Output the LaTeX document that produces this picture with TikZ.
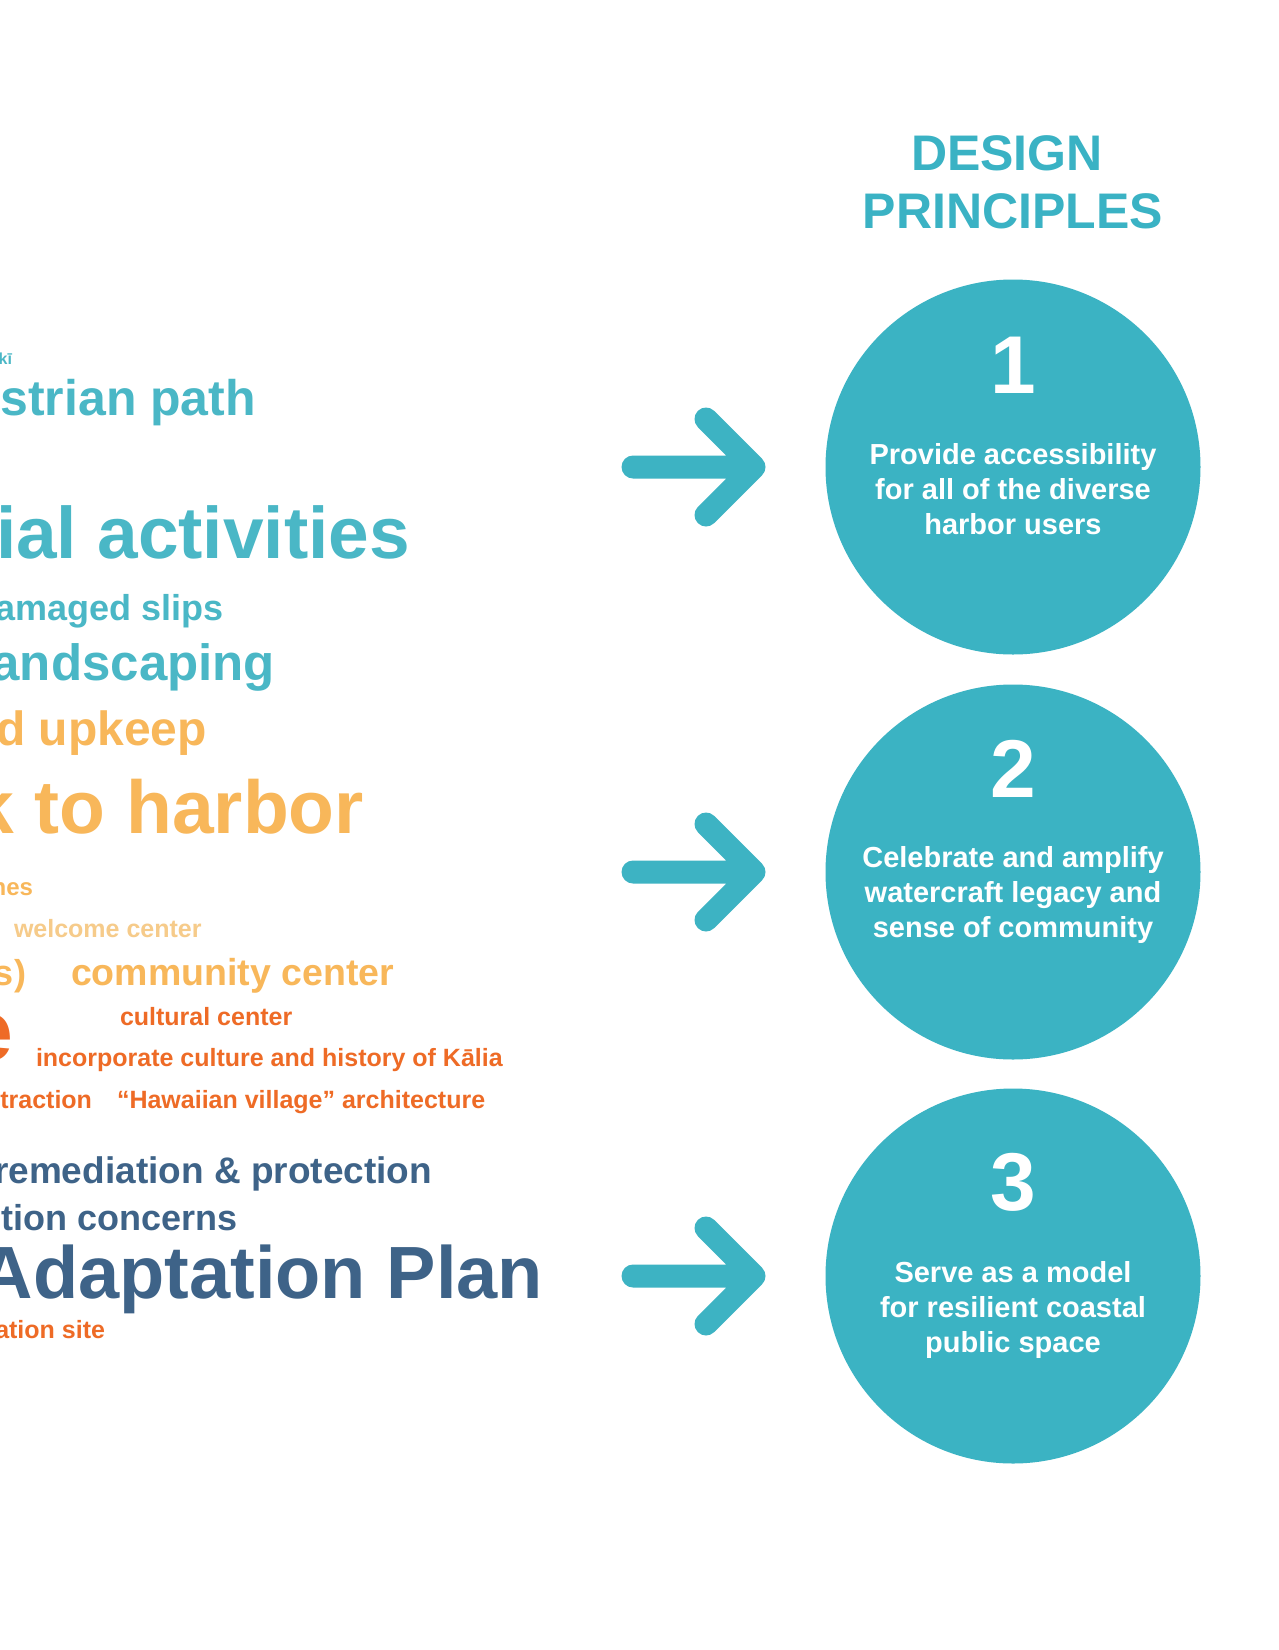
\documentclass[tikz,border=0pt]{standalone}
\usepackage{fontspec}
\setmainfont{Liberation Sans}
\definecolor{circ}{HTML}{3BB3C3}
\definecolor{arrowc}{HTML}{3DB3C3}
\definecolor{title}{HTML}{3AB2C4}
\definecolor{tealw}{HTML}{4AB7C6}
\definecolor{orangel}{HTML}{F8B75A}
\definecolor{orangep}{HTML}{F6CB8A}
\definecolor{oranged}{HTML}{EE6B26}
\definecolor{slate}{HTML}{3E6388}
\newcommand\wsz[1]{\fontsize{#1}{#1}\selectfont}
\tikzset{
  word/.style={inner sep=0pt, outer sep=0pt, font=\bfseries},
  wl/.style={word, anchor=base west},
  wr/.style={word, anchor=base east},
  principle/.style={circle, fill=circ, minimum size=375pt, inner sep=0pt},
  num/.style={text=white, font=\bfseries\wsz{82}, anchor=base, inner sep=0pt},
  ptext/.style={text=white, font=\bfseries\fontsize{29}{35}\selectfont, align=center, anchor=base, inner sep=0pt},
  bigarrow/.style={draw=arrowc, line width=23pt, line cap=round, line join=round},
}
\begin{document}
\begin{tikzpicture}[x=1pt,y=-1pt]
\useasboundingbox (0,0) rectangle (1278,1650);
\clip (0,0) rectangle (1278,1650);
\fill[white] (0,0) rectangle (1278,1650);

% word cloud (cut at the left edge)
\node[wr, text=tealw, font=\bfseries\wsz{16}] (w1) at (12,364) {kī};
\node[wr, text=tealw, font=\bfseries\wsz{50}] (w2) at (256,415) {strian path};
\node[wr, text=tealw, font=\bfseries\wsz{73}] (w3) at (410,558) {ial activities};
\node[wr, text=tealw, font=\bfseries\wsz{36}] (w4) at (224,620) {amaged slips};
\node[wr, text=tealw, font=\bfseries\wsz{51}] (w5) at (275,680) {andscaping};
\node[wr, text=orangel, font=\bfseries\wsz{48}] (w6) at (207,745) {d upkeep};
\node[wr, text=orangel, font=\bfseries\wsz{75}] (w7) at (364,833) {k to harbor};
\node[wr, text=orangel, font=\bfseries\wsz{24}] (w8) at (33,895) {nes};
\node[wl, text=orangep, font=\bfseries\wsz{25}] (w9) at (14,937) {welcome center};
\node[wr, text=orangel, font=\bfseries\wsz{36}] (w10) at (26,985) {s)};
\node[wl, text=orangel, font=\bfseries\wsz{37.5}] (w11) at (71,985) {community center};
\node[wr, text=oranged, font=\bfseries\wsz{86}] (w12) at (13,1060) {e};
\node[wl, text=oranged, font=\bfseries\wsz{25}] (w13) at (120,1025) {cultural center};
\node[wl, text=oranged, font=\bfseries\wsz{25}] (w14) at (36,1066) {incorporate culture and history of Kālia};
\node[wr, text=oranged, font=\bfseries\wsz{25}] (w15) at (92,1108) {traction};
\node[wl, text=oranged, font=\bfseries\wsz{25}] (w16) at (117,1108) {“Hawaiian village” architecture};
\node[wr, text=slate, font=\bfseries\wsz{37}] (w17) at (432,1183) {remediation \& protection};
\node[wr, text=slate, font=\bfseries\wsz{36}] (w18) at (238,1230) {tion concerns};
\node[wr, text=slate, font=\bfseries\wsz{74}] (w19) at (543,1298) {Adaptation Plan};
\node[wr, text=oranged, font=\bfseries\wsz{25}] (w20) at (105,1338) {ation site};

% title
\node[word, anchor=base, text=title, font=\bfseries\wsz{50}] (t1) at (1007,170) {DESIGN};
\node[word, anchor=base, text=title, font=\bfseries\wsz{50}] (t2) at (1013,228) {PRINCIPLES};

% principles
\node[principle] (c1) at (1013,467) {};
\node[principle] (c2) at (1013,872) {};
\node[principle] (c3) at (1013,1276) {};

\node[num] (n1) at (1013,393) {1};
\node[num] (n2) at (1013,797) {2};
\node[num] (n3) at (1013,1210) {3};

\node[ptext] (p1) at (1013,534) {Provide accessibility\\for all of the diverse\\harbor users};
\node[ptext] (p2) at (1013,937) {Celebrate and amplify\\watercraft legacy and\\sense of community};
\node[ptext] (p3) at (1013,1352) {Serve as a model\\for resilient coastal\\public space};

% arrows
\coordinate (a1s) at (633,467); \coordinate (a1t) at (754,467);
\coordinate (a2s) at (633,872); \coordinate (a2t) at (754,872);
\coordinate (a3s) at (633,1276); \coordinate (a3t) at (754,1276);
\foreach \a in {1,2,3}{
  \draw[bigarrow] (a\a s) -- (a\a t) ++(-48,-48) -- (a\a t) -- ++(-48,48);
}
\end{tikzpicture}
\end{document}
